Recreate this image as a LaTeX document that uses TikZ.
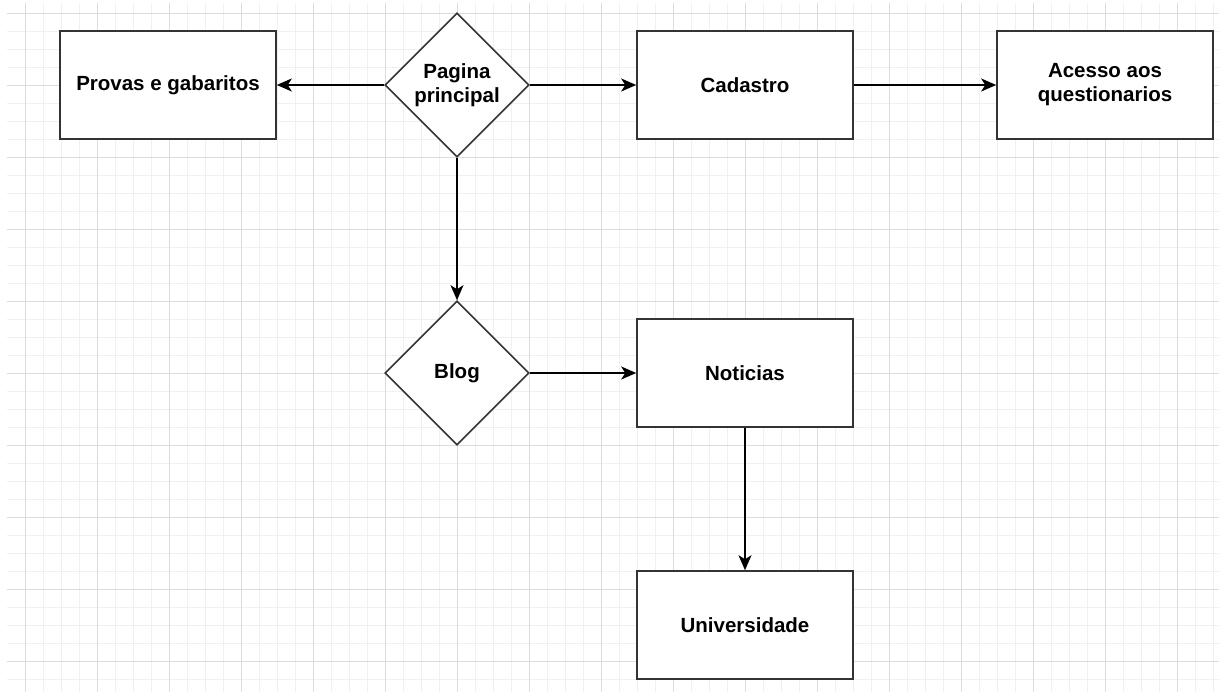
\documentclass[tikz,border=0pt]{standalone}
\usepackage{fontspec}
\setmainfont{Liberation Sans}
\usetikzlibrary{shapes.geometric,arrows.meta}

\definecolor{gridmajor}{HTML}{DCDCDC}
\definecolor{gridminor}{HTML}{F0F0F0}
\definecolor{edgegray}{HTML}{333333}

\tikzset{
  box/.style={draw=edgegray,line width=1.6pt,fill=white,minimum width=216pt,
    minimum height=108pt,align=center,font=\fontsize{20.5}{24}\selectfont\bfseries},
  decision/.style={diamond,aspect=1,draw=edgegray,line width=1.6pt,fill=white,
    inner sep=0pt,minimum width=144pt,minimum height=144pt,align=center,
    font=\fontsize{20.5}{24}\selectfont\bfseries},
  link/.style={->,line width=1.6pt,black}
}

\begin{document}
\begin{tikzpicture}[x=1pt,y=-1pt,>={Stealth[length=15pt,width=13pt,inset=4pt]}]
   \useasboundingbox (0,0) rectangle (1219,692);

   % grid
   \foreach \x in {25,43,...,1219} \draw[gridminor,line width=0.8pt] (\x,3) -- (\x,692);
   \foreach \y in {13,31,...,692} \draw[gridminor,line width=0.8pt] (7,\y) -- (1219,\y);
   \foreach \x in {25,97,...,1219} \draw[gridmajor,line width=0.8pt] (\x,3) -- (\x,692);
   \foreach \y in {13,85,...,692} \draw[gridmajor,line width=0.8pt] (7,\y) -- (1219,\y);

   \node[box] (provas) at (168,85) {Provas e gabaritos};
   \node[decision] (pagina) at (457,85) {Pagina\\principal};
   \node[box] (cadastro) at (745,85) {Cadastro};
   \node[box] (acesso) at (1105,85) {Acesso aos\\questionarios};

   \node[decision] (blog) at (457,373) {Blog};
   \node[box] (noticias) at (745,373) {Noticias};
   \node[box] (universidade) at (745,625) {Universidade};

   \path (pagina) edge[link] (provas);
   \path (pagina) edge[link] (cadastro);
   \path (cadastro) edge[link] (acesso);
   \path (pagina) edge[link] (blog);
   \path (blog) edge[link] (noticias);
   \path (noticias) edge[link] (universidade);

\end{tikzpicture}
\end{document}
